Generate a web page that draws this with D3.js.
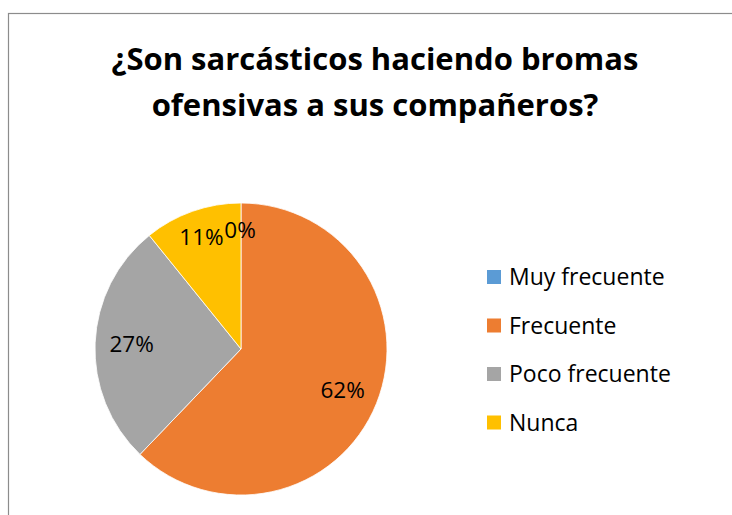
<!DOCTYPE html>
<html>
<head>
<style>
body { margin: 0; background: #fff; }
svg { display: block; font-family: "Open Sans", Lato, sans-serif; }
</style>
<script src="https://d3js.org/d3.v7.min.js"></script>
</head>
<body>
<div id="chart"></div>
<script>
// data
var categories = ["Muy frecuente", "Frecuente", "Poco frecuente", "Nunca"]
var counts = [0, 23, 10, 4]
var colors = ["#5B9BD5", "#ED7D31", "#A5A5A5", "#FFC000"]
var titleLines = ["¿Son sarcásticos haciendo bromas", "ofensivas a sus compañeros?"]

var width = 732, height = 515
var cx = 241, cy = 349, radius = 146

var svg = d3.select("#chart").append("svg")
  .attr("width", width)
  .attr("height", height)

// chart frame (only left and top visible)
svg.append("rect")
  .attr("x", 8.5).attr("y", 13.5)
  .attr("width", 740).attr("height", 540)
  .attr("fill", "none")
  .attr("stroke", "#8c8c8c")
  .attr("stroke-width", 1.2)

// title
svg.selectAll(".title")
  .data(titleLines)
  .enter().append("text")
  .attr("x", 375)
  .attr("y", function(d, i) { return 70 + i * 46 })
  .attr("text-anchor", "middle")
  .style("font-size", "31px")
  .style("font-weight", "bold")
  .attr("fill", "#000")
  .text(function(d) { return d })

var total = d3.sum(counts)
var pie = d3.pie().sort(null).value(function(d) { return d })
var arcs = pie(counts)

var arc = d3.arc().innerRadius(0).outerRadius(radius)
var labelArc = d3.arc().innerRadius(radius * 0.75).outerRadius(radius * 0.75)

var g = svg.append("g").attr("transform", "translate(" + cx + "," + cy + ")")

g.selectAll("path")
  .data(arcs)
  .enter().append("path")
  .attr("d", arc)
  .attr("fill", function(d, i) { return colors[i] })
  .attr("stroke", "#fff")
  .attr("stroke-width", 0.8)

// small nudges, the two top labels sit a bit further out
var nudge = [[-1, -9], [0, 0], [0, 0], [-3, -9]]

g.selectAll(".lbl")
  .data(arcs)
  .enter().append("text")
  .attr("transform", function(d, i) {
    var c = labelArc.centroid(d)
    return "translate(" + (c[0] + nudge[i][0]) + "," + (c[1] + nudge[i][1]) + ")"
  })
  .attr("text-anchor", "middle")
  .attr("dy", "0.35em")
  .style("font-size", "22.5px")
  .attr("fill", "#000")
  .text(function(d) { return Math.round(d.data / total * 100) + "%" })

// legend
var legend = svg.append("g").attr("transform", "translate(487,277)")
var row = legend.selectAll("g")
  .data(categories)
  .enter().append("g")
  .attr("transform", function(d, i) { return "translate(0," + i * 48.5 + ")" })

row.append("rect")
  .attr("x", 0).attr("y", -7)
  .attr("width", 14).attr("height", 14)
  .attr("fill", function(d, i) { return colors[i] })

row.append("text")
  .attr("x", 22)
  .attr("dy", "0.35em")
  .style("font-size", "23px")
  .attr("fill", "#000")
  .text(function(d) { return d })
</script>
</body>
</html>
